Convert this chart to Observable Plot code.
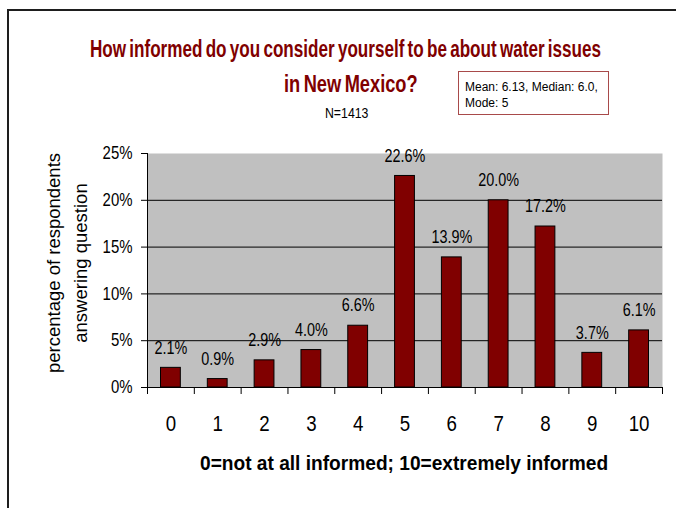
<!DOCTYPE html>
<html>
<head>
<meta charset="utf-8">
<script src="https://cdn.jsdelivr.net/npm/d3@7"></script>
<script src="https://cdn.jsdelivr.net/npm/@observablehq/plot@0.6"></script>
<style>
  html, body { margin: 0; padding: 0; background: #fff; }
  #chart { position: relative; width: 676px; height: 508px; overflow: hidden; background: #fff;
           font-family: Arial, "Liberation Sans", sans-serif; color: #000; }
  #frame { position: absolute; left: 7px; top: 9px; width: 700px; height: 520px;
           border-left: 2px solid #1e1e1e; border-top: 2px solid #1e1e1e; }
  #plot { position: absolute; left: 0; top: 0; }
  .t { position: absolute; white-space: nowrap; line-height: 1; transform-origin: 0 0; }
  #statbox { position: absolute; left: 458px; top: 71px; width: 151px; height: 44px; box-sizing: border-box;
             border: 1px solid #a84a4a; background: #fff; font-size: 12px; line-height: 16px;
             padding: 7px 0 0 6px; white-space: nowrap; }
</style>
</head>
<body>
<div id="chart">
  <div id="frame"></div>
  <div id="plot"></div>
</div>
<script>
// ---- data ----
const scores = [0, 1, 2, 3, 4, 5, 6, 7, 8, 9, 10];
const percents = [2.1, 0.9, 2.9, 4.0, 6.6, 22.6, 13.9, 20.0, 17.2, 3.7, 6.1];
const yTicks = [0, 5, 10, 15, 20, 25];
const titleLines = ["How informed do you consider yourself to be about water issues", "in New Mexico?"];
const subtitle = "N=1413";
const statLines = ["Mean: 6.13, Median: 6.0,", "Mode: 5"];
const yTitleLines = ["percentage of respondents", "answering question"];
const xTitle = "0=not at all informed; 10=extremely informed";

const data = scores.map((s, i) => ({score: s, pct: percents[i]}));
const boundaries = [...scores.map(s => s - 0.5), scores[scores.length - 1] + 0.5];

const chart = document.getElementById("chart");

// HTML text helper: centred at (cx, cy), squeezed to a target width
function place(text, cx, cy, style, targetWidth) {
  const el = document.createElement("div");
  el.className = "t";
  el.textContent = text;
  Object.assign(el.style, style);
  chart.appendChild(el);
  const w = el.offsetWidth, h = el.offsetHeight;
  const k = targetWidth ? targetWidth / w : 1;
  el.style.left = (cx - w * k / 2) + "px";
  el.style.top = (cy - h / 2) + "px";
  el.style.transform = `scaleX(${k})`;
  return el;
}

const plot = Plot.plot({
  width: 676,
  height: 508,
  marginLeft: 147,
  marginRight: 14,
  marginTop: 153,
  marginBottom: 121,
  style: {fontFamily: 'Arial, "Liberation Sans", sans-serif', background: "transparent", color: "#000"},
  x: {type: "linear", domain: [boundaries[0], boundaries[boundaries.length - 1]]},
  y: {domain: [0, 25]},
  marks: [
    Plot.frame({fill: "#c0c0c0", stroke: null}),
    Plot.ruleY(yTicks.filter(d => d > 0 && d < 25), {stroke: "#000", strokeWidth: 1}),
    Plot.rectY(data, {x1: d => d.score - 0.5, x2: d => d.score + 0.5, y: "pct",
      fill: "#800000", stroke: "#000", strokeWidth: 1, insetLeft: 13.5, insetRight: 13.5}),
    Plot.ruleY([0], {stroke: "#000"}),
    Plot.frame({anchor: "left", stroke: "#000"}),
    Plot.axisY({ticks: yTicks, tickFormat: d => d + "%", tickSize: 6, tickPadding: 9,
      fontSize: 18, label: null, stroke: "#000"}),
    Plot.axisX({ticks: boundaries, tickFormat: () => "", tickSize: 7, label: null, stroke: "#000"}),
    Plot.axisX({ticks: scores, tickFormat: d => String(d), tickSize: 0, tickPadding: 28,
      fontSize: 22, label: null}),
    Plot.text(data, {x: "score", y: "pct", text: d => d.pct.toFixed(1) + "%", dy: -20,
      fontSize: 18, fill: "#000"})
  ]
});
document.getElementById("plot").appendChild(plot);

// condense SVG text horizontally like the original's narrow rendering
const squeeze = {"y-axis tick label": 0.83, "x-axis tick label": 0.85, "text": 0.80};
plot.querySelectorAll("g[aria-label]").forEach(g => {
  const k = squeeze[g.getAttribute("aria-label")];
  if (!k) return;
  g.querySelectorAll("text").forEach(t => {
    if (t.querySelector("tspan")) return;
    const L = t.getComputedTextLength();
    if (L > 0) {
      t.setAttribute("textLength", (L * k).toFixed(2));
      t.setAttribute("lengthAdjust", "spacingAndGlyphs");
    }
  });
});

// titles
const titleStyle = {fontSize: "23px", fontWeight: "bold", color: "#800000", wordSpacing: "-2px"};
place(titleLines[0], 345.5, 49, titleStyle, 511);
place(titleLines[1], 351, 84, titleStyle, 134);
place(subtitle, 346, 113, {fontSize: "14px"}, 43);

// stats box
const box = document.createElement("div");
box.id = "statbox";
box.innerHTML = statLines.map(s => `<div>${s}</div>`).join("");
chart.appendChild(box);

// y-axis title (rotated, two lines)
const yt = document.createElement("div");
yt.style.cssText = "position:absolute;white-space:nowrap;text-align:center;font-size:18.5px;line-height:27px;";
yt.innerHTML = yTitleLines.map(s => `<div>${s}</div>`).join("");
chart.appendChild(yt);
const yw = yt.offsetWidth, yh = yt.offsetHeight;
yt.style.left = (66.5 - yw / 2) + "px";
yt.style.top = (263 - yh / 2) + "px";
yt.style.transform = "rotate(-90deg)";

// x-axis title
place(xTitle, 404, 462, {fontSize: "21px", fontWeight: "bold"}, 408);
</script>
</body>
</html>
